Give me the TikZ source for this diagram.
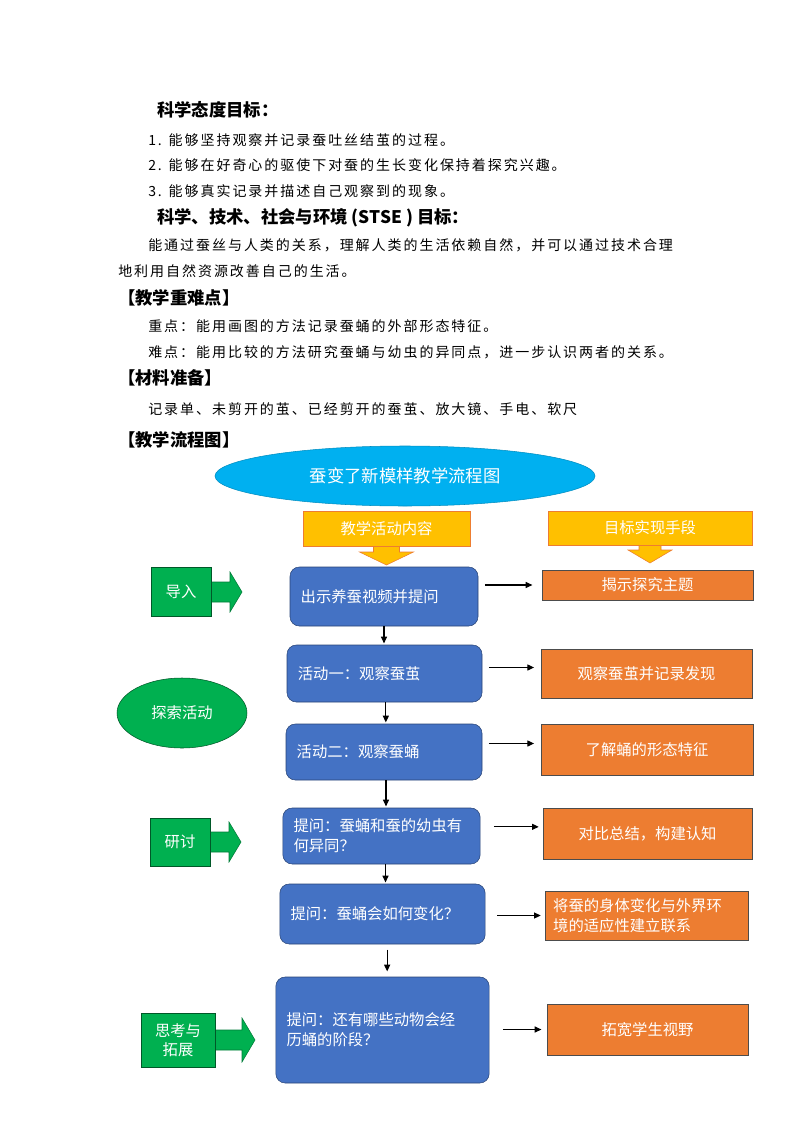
\documentclass[tikz,border=0pt]{standalone}
\usepackage{fontspec}
\setmainfont{Noto Sans CJK SC}
\newfontfamily\cjk{Noto Sans CJK SC}
\newfontfamily\cjkwide[LetterSpace=14]{Noto Sans CJK SC}
\usetikzlibrary{shapes.geometric,arrows.meta}

\definecolor{boxblue}{HTML}{4472C4}
\definecolor{boxorange}{HTML}{ED7D31}
\definecolor{boxyellow}{HTML}{FFC000}
\definecolor{boxgreen}{HTML}{00B050}
\definecolor{titlecyan}{HTML}{00B0F0}

\tikzset{
  headtxt/.style={anchor=west,inner sep=0pt,font=\fontsize{13pt}{15pt}\cjk\bfseries},
  bodytxt/.style={anchor=west,inner sep=0pt,font=\fontsize{10.5pt}{13pt}\cjkwide},
  blueb/.style={draw=boxblue!60!black,fill=boxblue,rounded corners=7pt,text=white,align=left,
    font=\fontsize{11.5pt}{15pt}\cjk,inner xsep=8pt},
  orangeb/.style={draw=black!70,fill=boxorange,text=white,align=center,font=\fontsize{11.5pt}{15pt}\cjk},
  yellowb/.style={draw=boxorange,fill=boxyellow,text=white,font=\fontsize{11.5pt}{14pt}\cjk},
  yelarrow/.style={draw=boxorange,fill=boxyellow},
  greentag/.style={draw=boxgreen!50!black,fill=boxgreen,text=white,align=center,font=\fontsize{11.5pt}{14pt}\cjk},
  grnarrow/.style={draw=boxgreen!70!black,fill=boxgreen},
  arr/.style={-{Triangle[length=5pt,width=4.5pt]},thick},
}

\begin{document}
\begin{tikzpicture}[x=0.75pt,y=-0.75pt]
\useasboundingbox (0,0) rectangle (794,1123);

% text above the chart
\node[headtxt] (h1) at (157,110) {科学态度目标：};
\node[bodytxt] (t1) at (148,140) {1. 能够坚持观察并记录蚕吐丝结茧的过程。};
\node[bodytxt] (t2) at (148,165) {2. 能够在好奇心的驱使下对蚕的生长变化保持着探究兴趣。};
\node[bodytxt] (t3) at (148,191) {3. 能够真实记录并描述自己观察到的现象。};
\node[headtxt] (h2) at (157,218) {科学、技术、社会与环境 (STSE ) 目标：};
\node[bodytxt] (t4) at (148,245) {能通过蚕丝与人类的关系，理解人类的生活依赖自然，并可以通过技术合理};
\node[bodytxt] (t5) at (118,271) {地利用自然资源改善自己的生活。};
\node[headtxt] (h3) at (118,298) {【教学重难点】};
\node[bodytxt] (t6) at (148,326) {重点：能用画图的方法记录蚕蛹的外部形态特征。};
\node[bodytxt] (t7) at (148,352) {难点：能用比较的方法研究蚕蛹与幼虫的异同点，进一步认识两者的关系。};
\node[headtxt] (h4) at (118,378) {【材料准备】};
\node[bodytxt] (t8) at (148,409) {记录单、未剪开的茧、已经剪开的蚕茧、放大镜、手电、软尺};
\node[headtxt] (h5) at (118,440) {【教学流程图】};

% chart title
\node[ellipse,fill=titlecyan,draw=titlecyan!80!black,minimum width=285pt,minimum height=45pt,
  text=white,font=\fontsize{13pt}{15pt}\cjk] (title) at (405,476) {蚕变了新模样教学流程图};

% column heads
\draw[yelarrow] (386.5,545) -- ++(-13,0) -- ++(0,7) -- ++(-14,0) -- ++(27,13) -- ++(27,-13) -- ++(-14,0) -- ++(0,-7) -- cycle;
\draw[yelarrow] (650,544) -- ++(-11,0) -- ++(0,6) -- ++(-11,0) -- ++(22,13) -- ++(22,-13) -- ++(-11,0) -- ++(0,-6) -- cycle;
\node[yellowb,minimum width=125.25pt,minimum height=26.25pt] (y1) at (386.5,528.5) {教学活动内容};
\node[yellowb,minimum width=153pt,minimum height=25.5pt] (y2) at (650,528) {目标实现手段};

% activities
\node[blueb,minimum width=141pt,minimum height=44.25pt,text width=125pt] (b1) at (384,596.5) {出示养蚕视频并提问};
\node[blueb,minimum width=146.25pt,minimum height=42.75pt,text width=130pt] (b2) at (384.5,673.5) {活动一：观察蚕茧};
\node[blueb,minimum width=147pt,minimum height=42pt,text width=131pt] (b3) at (384,752) {活动二：观察蚕蛹};
\node[blueb,minimum width=147.75pt,minimum height=42pt,text width=132pt] (b4) at (381.5,836) {提问：蚕蛹和蚕的幼虫有\\何异同？};
\node[blueb,minimum width=153.75pt,minimum height=45pt,text width=138pt] (b5) at (382.5,914) {提问：蚕蛹会如何变化？};
\node[blueb,minimum width=159.75pt,minimum height=79.5pt,text width=144pt] (b6) at (382.5,1030) {提问：还有哪些动物会经\\历蛹的阶段？};

% goals
\node[orangeb,minimum width=158.25pt,minimum height=22.5pt] (o1) at (647.5,585) {揭示探究主题};
\node[orangeb,minimum width=158.25pt,minimum height=36.75pt] (o2) at (646.5,673.5) {观察蚕茧并记录发现};
\node[orangeb,minimum width=159pt,minimum height=38.25pt] (o3) at (647,749.5) {了解蛹的形态特征};
\node[orangeb,minimum width=156.75pt,minimum height=38.25pt] (o4) at (647.5,833.5) {对比总结，构建认知};
\node[orangeb,minimum width=152.25pt,minimum height=36.75pt,align=left,text width=140pt] (o5) at (646.5,915.5) {将蚕的身体变化与外界环\\境的适应性建立联系};
\node[orangeb,minimum width=150.75pt,minimum height=38.25pt] (o6) at (647.5,1029.5) {拓宽学生视野};

% stages
\draw[grnarrow] (210,582) -- ++(20,0) -- ++(0,-10) -- ++(12,20) -- ++(-12,20) -- ++(0,-10) -- ++(-20,0) -- cycle;
\node[greentag,minimum width=45pt,minimum height=36.75pt] (g1) at (181,592) {导入};
\node[ellipse,fill=boxgreen,draw=boxgreen!50!black,minimum width=97.5pt,minimum height=52.5pt,
  text=white,font=\fontsize{11.5pt}{14pt}\cjk] (g2) at (182,713) {探索活动};
\draw[grnarrow] (209,832) -- ++(20,0) -- ++(0,-10) -- ++(12,20) -- ++(-12,20) -- ++(0,-10) -- ++(-20,0) -- cycle;
\node[greentag,minimum width=45pt,minimum height=36pt] (g3) at (180,842) {研讨};
\draw[grnarrow] (214,1030) -- ++(28,0) -- ++(0,-12) -- ++(13,22) -- ++(-13,22) -- ++(0,-12) -- ++(-28,0) -- cycle;
\node[greentag,minimum width=55.5pt,minimum height=40.5pt] (g4) at (178,1040) {思考与\\拓展};

% connectors
\draw[arr,shorten >=1pt] (b1.south) -- (b1.south |- b2.north);
\draw[arr,shorten >=1pt] ([xshift=1pt]b2.south) -- ([xshift=1pt]b2.south |- b3.north);
\draw[arr,shorten >=1pt] ([xshift=1.5pt]b3.south) -- ([xshift=1.5pt]b3.south |- b4.north);
\draw[arr,shorten >=1pt] ([xshift=3pt]b4.south) -- ([xshift=3pt]b4.south |- b5.north);
\draw[arr,shorten <=4pt,shorten >=4pt] ([xshift=3.5pt]b5.south) -- ([xshift=3.5pt]b5.south |- b6.north);
\draw[arr,shorten <=5pt,shorten >=7pt] (o1.west -| b1.east) -- (o1.west);
\draw[arr,shorten <=5pt,shorten >=5pt] ([yshift=4.5pt]o2.west -| b2.east) -- ([yshift=4.5pt]o2.west);
\draw[arr,shorten <=5pt,shorten >=5pt] ([yshift=4.5pt]o3.west -| b3.east) -- ([yshift=4.5pt]o3.west);
\draw[arr,shorten <=10pt,shorten >=3pt] ([yshift=5pt]o4.west -| b4.east) -- ([yshift=5pt]o4.west);
\draw[arr,shorten <=9pt,shorten >=3pt] (o5.west -| b5.east) -- (o5.west);
\draw[arr,shorten <=10pt,shorten >=4pt] (o6.west -| b6.east) -- (o6.west);
\end{tikzpicture}
\end{document}
